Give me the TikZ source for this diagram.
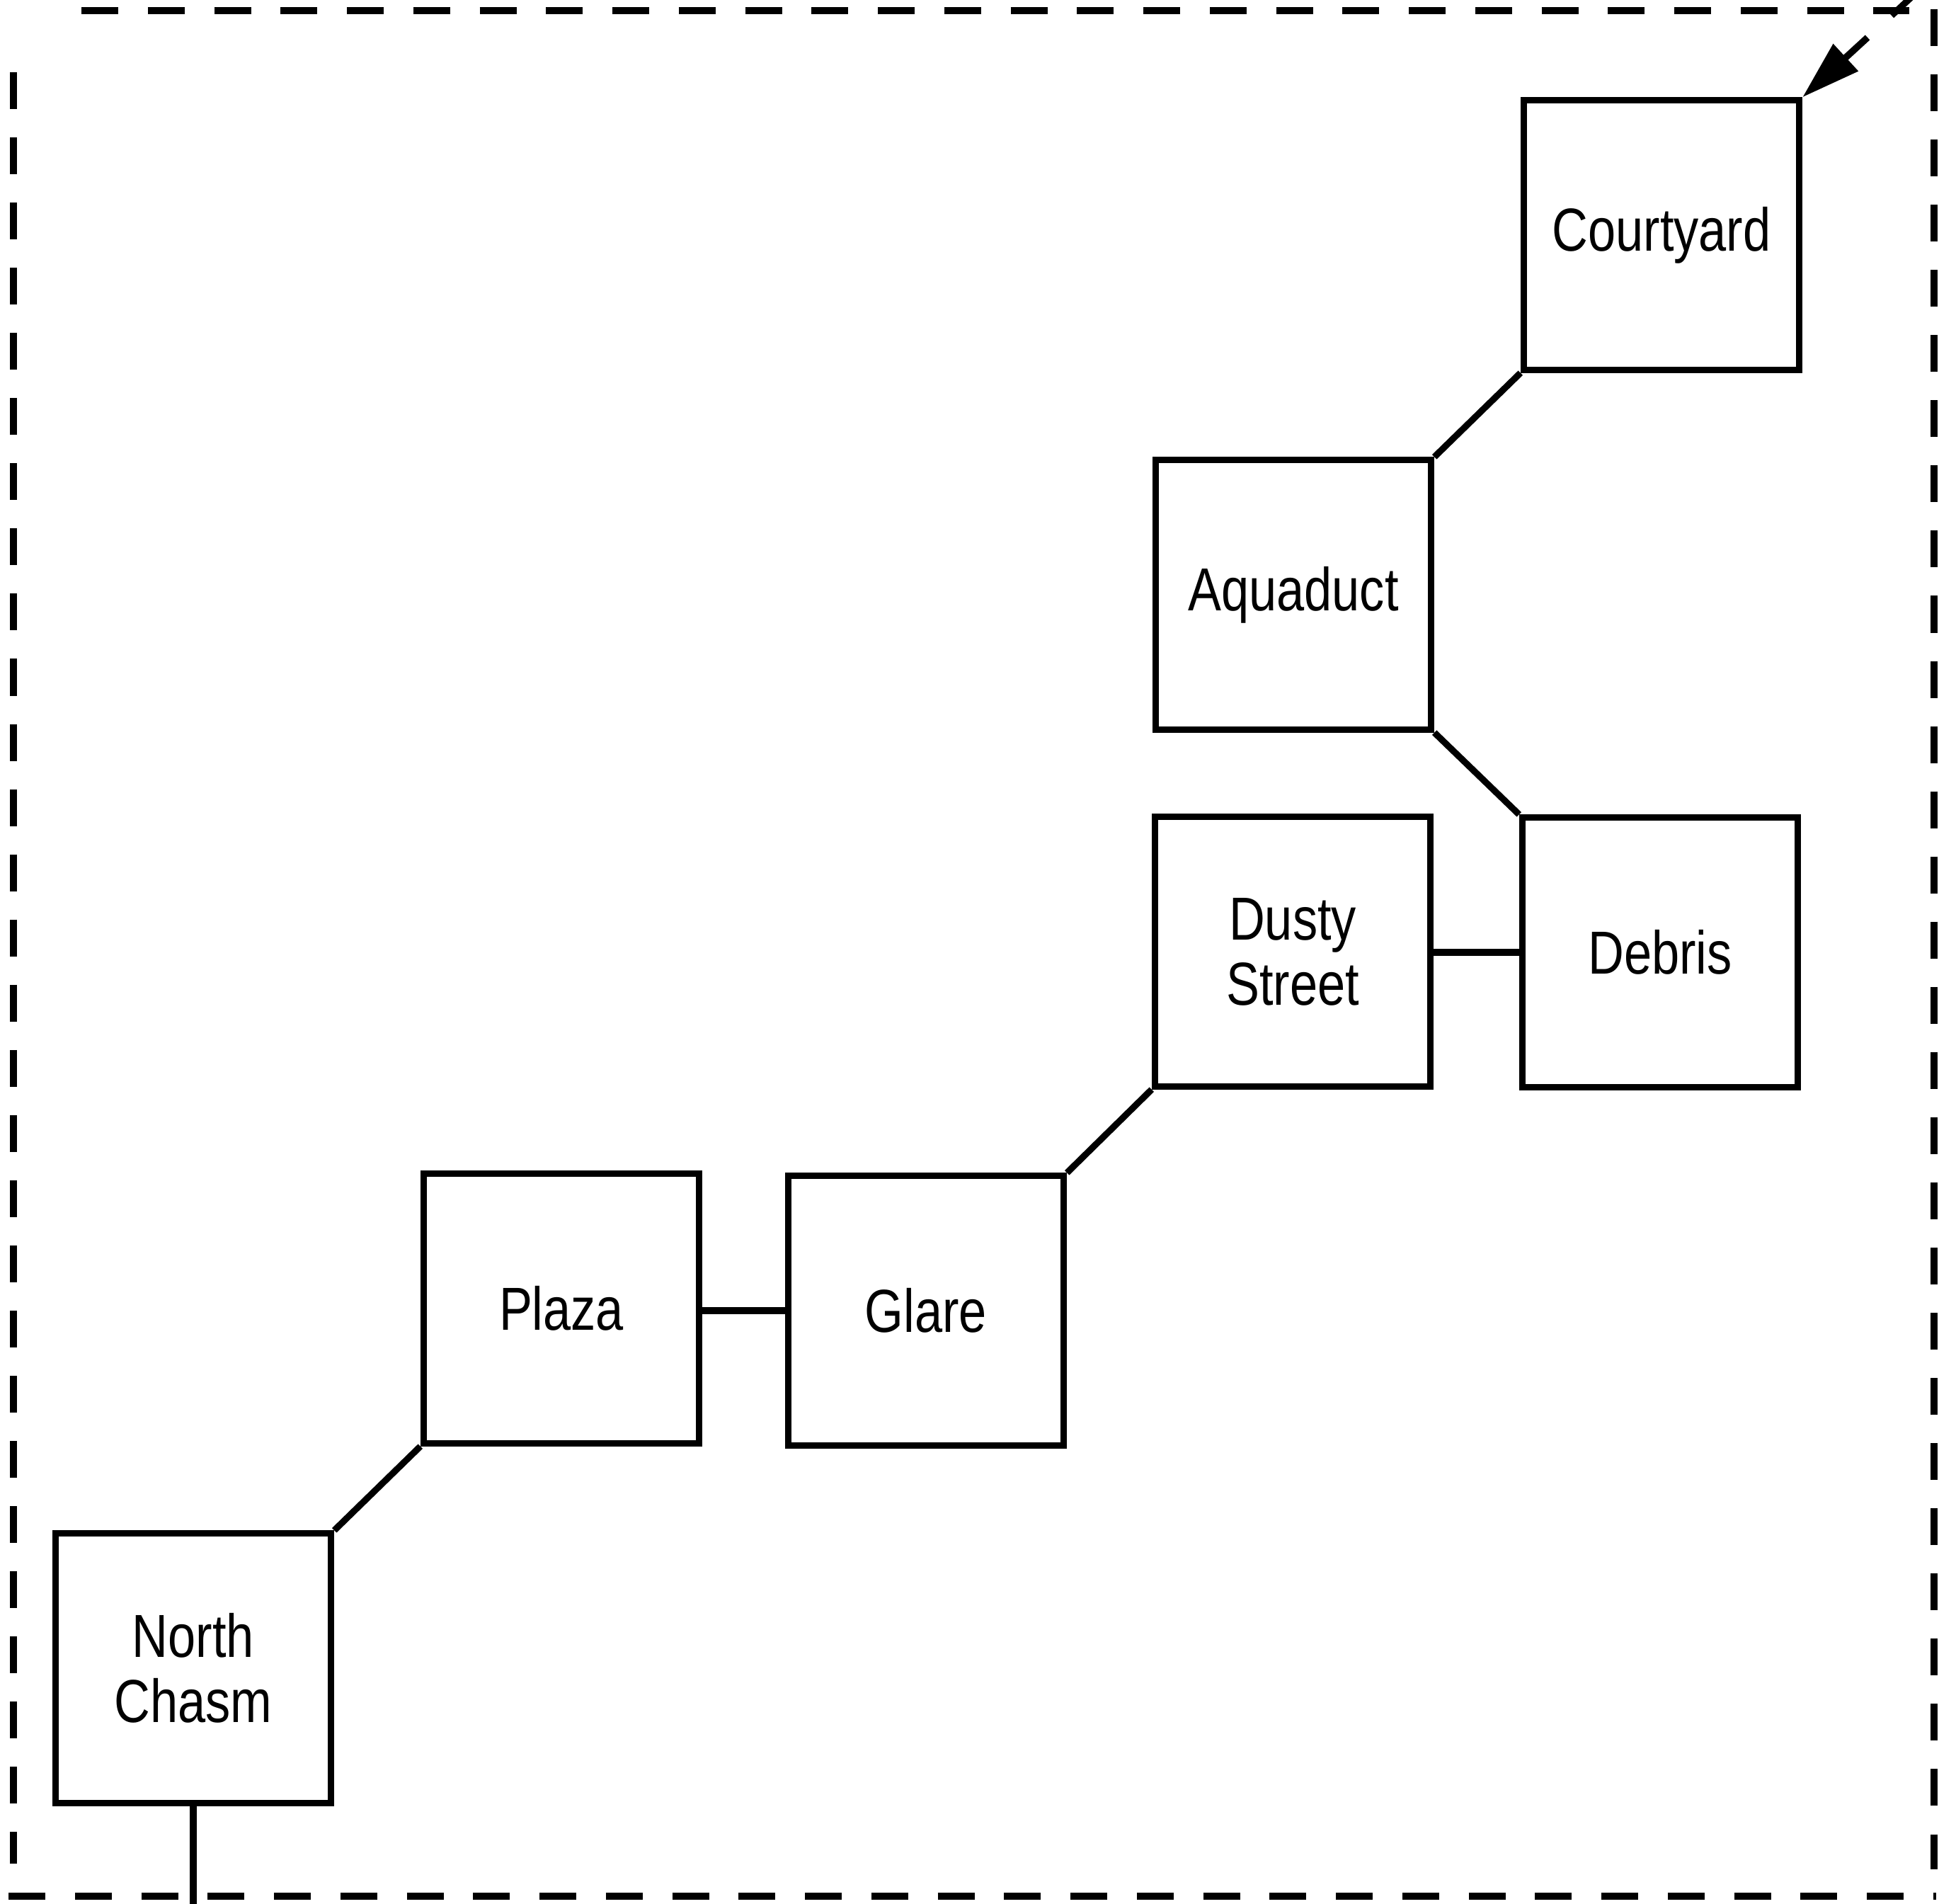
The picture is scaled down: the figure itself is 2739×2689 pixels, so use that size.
\documentclass[tikz,border=0pt]{standalone}
\usepackage{fontspec}
\setmainfont{Liberation Sans}[FakeStretch=0.82]
\usetikzlibrary{arrows.meta}
\tikzset{
  room/.style={draw=black, line width=2.6pt, rectangle, minimum width=3.89cm, minimum height=3.8cm,
    inner sep=0pt, align=center, font=\fontsize{24.4pt}{26.2pt}\selectfont},
  link/.style={draw=black, line width=2.6pt},
  border/.style={draw=black, line width=2.8pt},
  entry/.style={draw=black, line width=2.7pt, -{Triangle[length=0.83cm,width=0.5cm]}}
}
\begin{document}
\begin{tikzpicture}[x=0.01cm, y=-0.01cm]
\useasboundingbox (0,0) rectangle (2739,2689);
% dashed frame
\draw[border, dash pattern=on 0.52cm off 0.417cm] (115,15) -- (2697,15);
\draw[border, dash pattern=on 0.52cm off 0.417cm] (12,2678) -- (2735,2678);
\draw[border, dash pattern=on 0.52cm off 0.40cm] (19,102) -- (19,2632);
\draw[border, dash pattern=on 0.52cm off 0.40cm] (2732,13) -- (2732,2640);
% rooms
\node[room] (court)  at (2347,332)  {Courtyard};
\node[room] (aqua)   at (1827,840)  {Aquaduct};
\node[room] (dusty)  at (1826,1344) {Dusty\\Street};
\node[room] (debris) at (2345,1345) {Debris};
\node[room] (glare)  at (1308,1851) {Glare};
\node[room] (plaza)  at (793,1848)  {Plaza};
\node[room] (chasm)  at (273,2356)  {North\\Chasm};
% connectors
\draw[link] (court.south west) -- (aqua.north east);
\draw[link] (aqua.south east) -- (debris.north west);
\draw[link] (debris.west) -- (debris.west -| dusty.east);
\draw[link] (dusty.south west) -- (glare.north east);
\draw[link] (glare.west) -- (glare.west -| plaza.east);
\draw[link] (plaza.south west) -- (chasm.north east);
\coordinate (exit) at (273,2700);
\draw[link] (chasm.south) -- (exit);
% entry arrow
\coordinate (entryA) at (2700,-4);
\coordinate (entryB) at (2672,22);
\coordinate (entryC) at (2638,53);
\draw[link] (entryA) -- (entryB);
\draw[entry] (entryC) -- (court.north east);
\end{tikzpicture}
\end{document}
